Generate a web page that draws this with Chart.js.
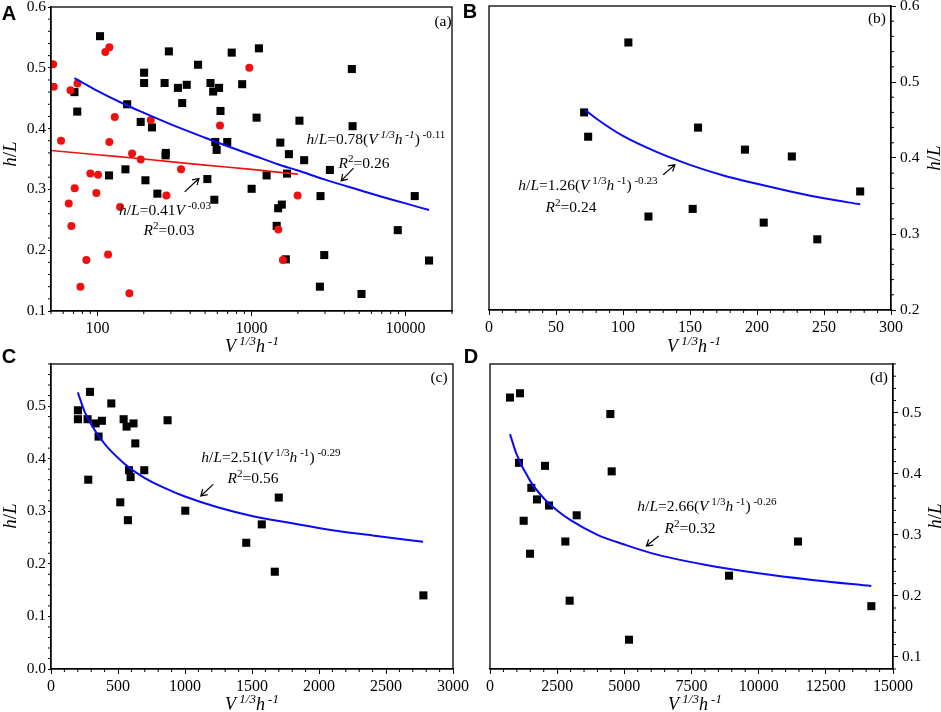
<!DOCTYPE html>
<html><head><meta charset="utf-8">
<script src="https://cdn.jsdelivr.net/npm/chart.js@4.4.1/dist/chart.umd.min.js"></script>
<style>
html,body{margin:0;padding:0;background:#fff;}
body{width:941px;height:712px;position:relative;overflow:hidden;font-family:"Liberation Serif","Times New Roman",serif;color:#000;}
canvas{position:absolute;}
.t{position:absolute;white-space:nowrap;transform:translate(-50%,-50%);font-size:15.5px;line-height:1;}
.s{font-size:0.72em;position:relative;top:-0.55em;}
.p{font-family:"Liberation Sans",Arial,sans-serif;font-weight:bold;font-size:20px;}
.ax{font-size:18px;}
.yt{font-size:19px;transform:translate(-50%,-50%) rotate(-90deg);}
</style></head><body>
<canvas id="cA" width="482" height="369" style="left:0px;top:-18px"></canvas>
<canvas id="cB" width="482" height="369" style="left:459px;top:-19px"></canvas>
<canvas id="cC" width="483" height="374" style="left:0px;top:339px"></canvas>
<canvas id="cD" width="481" height="374" style="left:460px;top:339px"></canvas>
<div id="ov"></div>
<script>
// ---------- data ----------
// Panel (b): points with V^(1/3)h^-1 < 300
const bX = [71, 74, 104, 119, 152, 156, 191, 205, 226, 245, 277];
const bY = [0.460, 0.428, 0.552, 0.323, 0.333, 0.440, 0.411, 0.315, 0.402, 0.293, 0.356];
// Panel (c)
const cX = [201, 201, 273, 278, 291, 333, 355, 380, 450, 517, 542, 564, 574, 582, 594, 616, 629, 696, 870, 1002, 1457, 1573, 1670, 1700, 2779];
const cY = [0.492, 0.475, 0.475, 0.360, 0.527, 0.467, 0.442, 0.472, 0.505, 0.317, 0.475, 0.461, 0.283, 0.378, 0.365, 0.467, 0.429, 0.378, 0.473, 0.301, 0.240, 0.275, 0.185, 0.326, 0.140];
// Panel (d)
const dX = [744, 1079, 1117, 1253, 1489, 1538, 1749, 2047, 2196, 2804, 2965, 3226, 4479, 4529, 5174, 8896, 11464, 14194];
const dY = [0.525, 0.418, 0.532, 0.323, 0.269, 0.377, 0.358, 0.413, 0.348, 0.289, 0.192, 0.332, 0.498, 0.404, 0.128, 0.233, 0.289, 0.183];
// Panel (a): red circles
const aRedX = [51.6, 52.1, 58.1, 65.2, 66.9, 67.8, 71.2, 74.2, 77.6, 84.8, 90, 98.5, 101, 112.6, 117.3, 119.6, 119.6, 129.6, 140.4, 161.3, 167.9, 191.1, 221.9, 280.3, 349, 624.7, 967.6, 1492, 1598, 1991];
const aRedY = [0.506, 0.469, 0.380, 0.277, 0.463, 0.240, 0.302, 0.474, 0.140, 0.184, 0.326, 0.294, 0.324, 0.526, 0.193, 0.534, 0.378, 0.419, 0.271, 0.129, 0.359, 0.349, 0.414, 0.290, 0.333, 0.405, 0.500, 0.234, 0.184, 0.290];
// Fitted curves
const aBlueFitX = [71, 100, 150, 200, 300, 500, 700, 1000, 1500, 2000, 3000, 5000, 7000, 10000, 14200];
const aBlueFitY = [0.483, 0.462, 0.440, 0.426, 0.407, 0.385, 0.371, 0.357, 0.341, 0.331, 0.316, 0.299, 0.288, 0.277, 0.266];
const aRedFitX = [50, 100, 200, 500, 1000, 2000];
const aRedFitY = [0.364, 0.357, 0.350, 0.340, 0.333, 0.325];
const bFitX = [72, 80, 100, 125, 150, 175, 200, 225, 250, 277];
const bFitY = [0.463, 0.452, 0.429, 0.408, 0.391, 0.377, 0.366, 0.356, 0.347, 0.339];
const cFitX = [200, 250, 300, 400, 550, 700, 850, 1000, 1250, 1500, 1800, 2100, 2400, 2777];
const cFitY = [0.526, 0.490, 0.465, 0.428, 0.390, 0.363, 0.344, 0.328, 0.307, 0.291, 0.277, 0.264, 0.254, 0.242];
const dFitX = [744, 1000, 1500, 2000, 2500, 3000, 4000, 5000, 6000, 8000, 10000, 12000, 14194];
const dFitY = [0.465, 0.431, 0.388, 0.360, 0.340, 0.324, 0.300, 0.284, 0.270, 0.251, 0.237, 0.226, 0.216];
// Tick labels
const aXTicks = [100, 1000, 10000];
const aYTicks = [0.1, 0.2, 0.3, 0.4, 0.5, 0.6];
const bXTicks = [0, 50, 100, 150, 200, 250, 300];
const bYTicks = [0.2, 0.3, 0.4, 0.5, 0.6];
const cXTicks = [0, 500, 1000, 1500, 2000, 2500, 3000];
const cYTicks = [0.0, 0.1, 0.2, 0.3, 0.4, 0.5];
const dXTicks = [0, 2500, 5000, 7500, 10000, 12500, 15000];
const dYTicks = [0.1, 0.2, 0.3, 0.4, 0.5];

// ---------- helpers ----------
const BLUE = '#0a0af5', RED = '#f01010';
function pts(xs, ys) { return xs.map((x, i) => ({ x: x, y: ys[i] })); }
function minorLin(min, max, step, majors) {
  const out = []; const n = Math.round((max - min) / step);
  for (let i = 0; i <= n; i++) { const v = +(min + i * step).toFixed(4);
    if (!majors.some(m => Math.abs(m - v) < 1e-6)) out.push(v); }
  return out;
}
function minorLog(min, max, majors) {
  const out = [];
  for (let d = 10; d <= 10000; d *= 10) for (let k = 2; k <= 9; k++) { const v = k * d;
    if (v >= min && v <= max && !majors.includes(v)) out.push(v); }
  return out;
}
Chart.defaults.font.family = '"Liberation Serif", "Times New Roman", serif';
Chart.defaults.font.size = 15.5;
Chart.defaults.color = '#000';

const deco = {
  id: 'deco',
  afterDatasetsDraw(chart, args, o) {
    const ctx = chart.ctx, a = chart.chartArea, xs = chart.scales.x, ys = chart.scales.y;
    ctx.save();
    ctx.strokeStyle = '#000'; ctx.lineWidth = 1.3;
    ctx.strokeRect(a.left, a.top, a.right - a.left, a.bottom - a.top);
    ctx.lineWidth = 1;
    (o.minorX || []).forEach(v => { const p = xs.getPixelForValue(v);
      ctx.beginPath(); ctx.moveTo(p, a.bottom); ctx.lineTo(p, a.bottom + 3); ctx.stroke(); });
    const right = ys.options.position === 'right';
    (o.minorY || []).forEach(v => { const p = ys.getPixelForValue(v); const x0 = right ? a.right : a.left;
      ctx.beginPath(); ctx.moveTo(x0, p); ctx.lineTo(x0 + (right ? 3 : -3), p); ctx.stroke(); });
    ctx.lineWidth = 1.2;
    (o.arrows || []).forEach(r => {
      const x1 = xs.getPixelForValue(r[0]), y1 = ys.getPixelForValue(r[1]);
      const x2 = xs.getPixelForValue(r[2]), y2 = ys.getPixelForValue(r[3]);
      const ang = Math.atan2(y2 - y1, x2 - x1), h = 7;
      ctx.beginPath(); ctx.moveTo(x1, y1); ctx.lineTo(x2, y2);
      ctx.moveTo(x2 - h * Math.cos(ang - 0.55), y2 - h * Math.sin(ang - 0.55));
      ctx.lineTo(x2, y2);
      ctx.lineTo(x2 - h * Math.cos(ang + 0.55), y2 - h * Math.sin(ang + 0.55));
      ctx.stroke();
    });
    ctx.restore();
  }
};

function xScale(type, min, max, ticks, height) {
  return { type: type, min: min, max: max, position: 'bottom',
    afterBuildTicks: s => { s.ticks = ticks.map(v => ({ value: v })); },
    afterFit: s => { s.height = height; },
    ticks: { autoSkip: false, maxRotation: 0, minRotation: 0, padding: 3, font: { size: 16 }, callback: v => String(v) },
    grid: { display: true, drawOnChartArea: false, drawTicks: true, tickLength: 5, color: '#000', lineWidth: 1 },
    border: { display: true, color: '#000', width: 1.3 } };
}
function yScale(min, max, ticks, width, pos) {
  const left = pos === 'left';
  return { type: 'linear', min: min, max: max, position: pos,
    afterBuildTicks: s => { s.ticks = ticks.map(v => ({ value: v })); },
    afterFit: s => { s.width = width; },
    ticks: { autoSkip: false, padding: left ? 2 : 4, callback: v => Number(v).toFixed(1) },
    grid: { display: true, drawOnChartArea: false, drawTicks: true, tickLength: left ? 3 : 5, color: '#000', lineWidth: 1 },
    border: { display: true, color: '#000', width: 1.3 } };
}
function fitSet(xs, ys, color, w) {
  return { data: pts(xs, ys), showLine: true, borderColor: color, borderWidth: w, pointRadius: 0,
    cubicInterpolationMode: 'monotone', fill: false, order: 0 };
}
function squares(xs, ys) {
  return { data: pts(xs, ys), pointStyle: 'rect', pointRadius: 5.7, backgroundColor: '#000',
    borderWidth: 0, showLine: false, order: 2, clip: 0 };
}
function baseOpts(pad, deco, scales) {
  return { responsive: false, animation: false, events: [],
    layout: { padding: pad },
    plugins: { legend: { display: false }, tooltip: { enabled: false }, deco: deco },
    scales: scales };
}

// ---------- panel A ----------
const allX = bX.concat(cX, dX), allY = bY.concat(cY, dY);
new Chart(document.getElementById('cA'), {
  type: 'scatter',
  data: { datasets: [
    fitSet(aBlueFitX, aBlueFitY, BLUE, 2),
    fitSet(aRedFitX, aRedFitY, RED, 1.7),
    squares(allX, allY),
    { data: pts(aRedX, aRedY), pointStyle: 'circle', pointRadius: 4, backgroundColor: RED, borderWidth: 0, order: 1, clip: 0 }
  ] },
  options: baseOpts({ left: 0, top: 25, right: 30, bottom: 0 },
    { minorX: minorLog(50, 20000, aXTicks), minorY: minorLin(0.1, 0.6, 0.02, aYTicks),
      arrows: [[368, 0.296, 456, 0.318], [4592, 0.335, 3818, 0.314]] },
    { x: xScale('logarithmic', 50, 20000, aXTicks, 40), y: yScale(0.1, 0.6, aYTicks, 51, 'left') }),
  plugins: [deco]
});
// ---------- panel B ----------
new Chart(document.getElementById('cB'), {
  type: 'scatter',
  data: { datasets: [ fitSet(bFitX, bFitY, BLUE, 2), squares(bX, bY) ] },
  options: baseOpts({ left: 30, top: 25, right: 0, bottom: 0 },
    { minorX: minorLin(0, 300, 10, bXTicks), minorY: minorLin(0.2, 0.6, 0.02, bYTicks),
      arrows: [[130, 0.378, 138.7, 0.391]] },
    { x: xScale('linear', 0, 300, bXTicks, 40), y: yScale(0.2, 0.6, bYTicks, 50, 'right') }),
  plugins: [deco]
});
// ---------- panel C ----------
new Chart(document.getElementById('cC'), {
  type: 'scatter',
  data: { datasets: [ fitSet(cFitX, cFitY, BLUE, 2), squares(cX, cY) ] },
  options: baseOpts({ left: 0, top: 25, right: 30, bottom: 0 },
    { minorX: minorLin(0, 3000, 100, cXTicks), minorY: minorLin(0, 0.58, 0.02, cYTicks),
      arrows: [[1210, 0.351, 1118, 0.329]] },
    { x: xScale('linear', 0, 3000, cXTicks, 44), y: yScale(0, 0.58, cYTicks, 51, 'left') }),
  plugins: [deco]
});
// ---------- panel D ----------
new Chart(document.getElementById('cD'), {
  type: 'scatter',
  data: { datasets: [ fitSet(dFitX, dFitY, BLUE, 2), squares(dX, dY) ] },
  options: baseOpts({ left: 30, top: 25, right: 0, bottom: 0 },
    { minorX: minorLin(0, 15000, 500, dXTicks), minorY: minorLin(0.08, 0.58, 0.02, dYTicks),
      arrows: [[6279, 0.298, 5821, 0.2816]] },
    { x: xScale('linear', 0, 15000, dXTicks, 44), y: yScale(0.08, 0.58, dYTicks, 48, 'right') }),
  plugins: [deco]
});

// ---------- text annotations ----------
const S = t => '<span class="s">' + t + '</span>';
const XT = '<i>V</i>' + S('<i> 1/3</i>') + '<i>h</i>' + S('<i> -1</i>');
const HL = '<i>h</i>/<i>L</i>';
const labels = [
  ['A', 9, 13, 'p'], ['B', 470, 11, 'p'], ['C', 9, 356, 'p'], ['D', 471, 356, 'p'],
  ['(a)', 443, 21, ''], ['(b)', 877, 18, ''], ['(c)', 439, 377, ''], ['(d)', 879, 377, ''],
  [XT, 252, 346, 'ax'], [XT, 694, 346, 'ax'], [XT, 252, 704, 'ax'], [XT, 695, 704, 'ax'],
  [HL, 9, 154, 'yt'], [HL, 9, 516, 'yt'], [HL, 933, 158, 'yt'], [HL, 934, 516, 'yt'],
  [HL + '=0.78(<i>V</i>' + S('<i> 1/3</i>') + '<i>h</i>' + S('<i> -1</i>') + ')' + S(' -0.11'), 376, 139, ''],
  ['<i>R</i>' + S('2') + '=0.26', 364, 163, ''],
  [HL + '=0.41<i>V</i>' + S(' -0.03'), 165, 210, ''],
  ['<i>R</i>' + S('2') + '=0.03', 169, 230, ''],
  [HL + '=1.26(<i>V</i>' + S(' 1/3') + '<i>h</i>' + S(' -1') + ')' + S(' -0.23'), 588, 185, ''],
  ['<i>R</i>' + S('2') + '=0.24', 571, 207, ''],
  [HL + '=2.51(<i>V</i>' + S(' 1/3') + '<i>h</i>' + S(' -1') + ')' + S(' -0.29'), 271, 457, ''],
  ['<i>R</i>' + S('2') + '=0.56', 253, 478, ''],
  [HL + '=2.66(<i>V</i>' + S(' 1/3') + '<i>h</i>' + S(' -1') + ')' + S(' -0.26'), 707, 506, ''],
  ['<i>R</i>' + S('2') + '=0.32', 690, 528, '']
];
const ov = document.getElementById('ov');
labels.forEach(l => {
  const d = document.createElement('div');
  d.className = 't ' + l[3];
  d.innerHTML = l[0];
  d.style.left = l[1] + 'px'; d.style.top = l[2] + 'px';
  ov.appendChild(d);
});
</script>
</body></html>
